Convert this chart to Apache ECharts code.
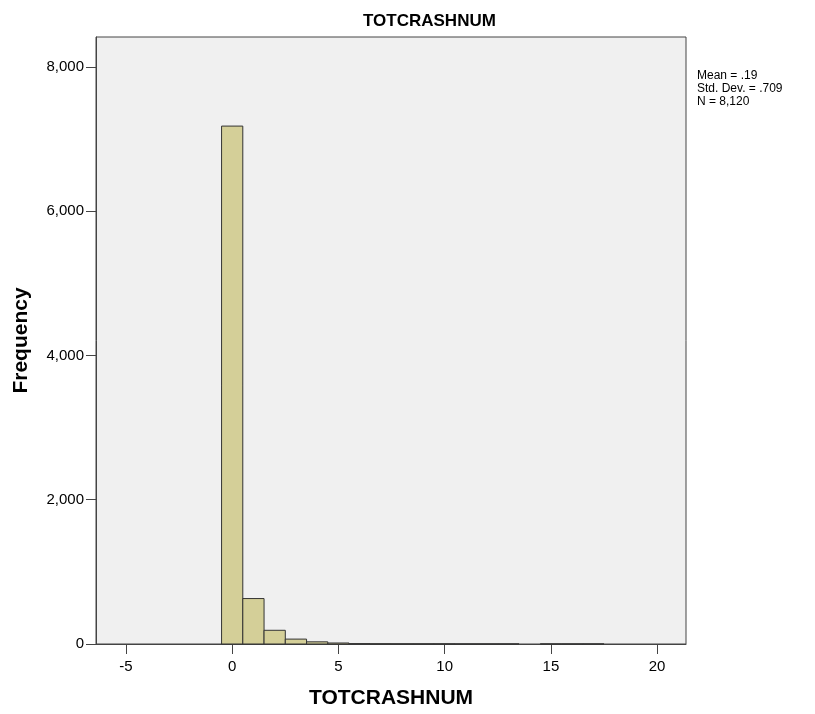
<!DOCTYPE html>
<html>
<head>
<meta charset="utf-8">
<script src="https://cdn.jsdelivr.net/npm/echarts@6/dist/echarts.min.js"></script>
<style>
  html, body { margin: 0; padding: 0; background: #fff; }
  #main { width: 815px; height: 714px; }
</style>
</head>
<body>
<div id="main"></div>
<script>
// histogram bins (bin centre) and counts
var binCenters = [0, 1, 2, 3, 4, 5, 6, 7, 8, 9, 10, 11, 12, 13, 15, 16, 17];
var binCounts = [7180, 630, 190, 68, 30, 14, 5, 3, 2, 2, 2, 1, 1, 1, 1, 1, 1];
var xTicks = [-5, 0, 5, 10, 15, 20];
var statsLines = ["Mean = .19", "Std. Dev. = .709", "N = 8,120"];

var chart = echarts.init(document.getElementById("main"));
var data = binCenters.map(function(c, i) { return [c, binCounts[i]]; });
var font = "Liberation Sans, Arial, sans-serif";

chart.setOption({
  animation: false,
  title: { text: "TOTCRASHNUM", left: 358, top: 8,
    textStyle: { fontFamily: font, fontSize: 17, fontWeight: "bold", color: "#000" } },
  grid: { left: 96, right: 129, top: 37, bottom: 69, show: true,
    backgroundColor: "#F0F0F0", borderColor: "#444", borderWidth: 1 },
  xAxis: {
    type: "value", min: -6.41, max: 21.36,
    name: "TOTCRASHNUM", nameLocation: "middle", nameGap: 44,
    nameTextStyle: { fontFamily: font, fontSize: 21, fontWeight: "bold", color: "#000" },
    axisLine: { lineStyle: { color: "#444" } },
    axisTick: { show: true, length: 10, customValues: xTicks, lineStyle: { color: "#444" } },
    axisLabel: { customValues: xTicks, fontFamily: font, fontSize: 15, color: "#000", margin: 15 },
    splitLine: { show: false }
  },
  yAxis: {
    type: "value", min: 0, max: 8415, interval: 2000,
    name: "Frequency", nameLocation: "middle", nameGap: 64,
    nameTextStyle: { fontFamily: font, fontSize: 21, fontWeight: "bold", color: "#000" },
    axisLine: { show: true, onZero: false, lineStyle: { color: "#444" } },
    axisTick: { show: true, length: 10, lineStyle: { color: "#444" } },
    axisLabel: { fontFamily: font, fontSize: 15, color: "#000", margin: 12, showMaxLabel: false,
      formatter: function(v) { return v.toLocaleString("en-US"); } },
    splitLine: { show: false }
  },
  graphic: [{ type: "text", left: 697, top: 69,
    style: { text: statsLines.join("\n"), font: "12px " + font, fill: "#000", lineHeight: 13 } }],
  series: [{
    type: "custom",
    data: data,
    renderItem: function(params, api) {
      var x = api.value(0), y = api.value(1);
      var p0 = api.coord([x - 0.5, y]), p1 = api.coord([x + 0.5, 0]);
      return { type: "rect",
        shape: { x: p0[0], y: p0[1], width: p1[0] - p0[0], height: p1[1] - p0[1] },
        style: { fill: "#D4CF98", stroke: "#333", lineWidth: 1 } };
    }
  }]
});
</script>
</body>
</html>
